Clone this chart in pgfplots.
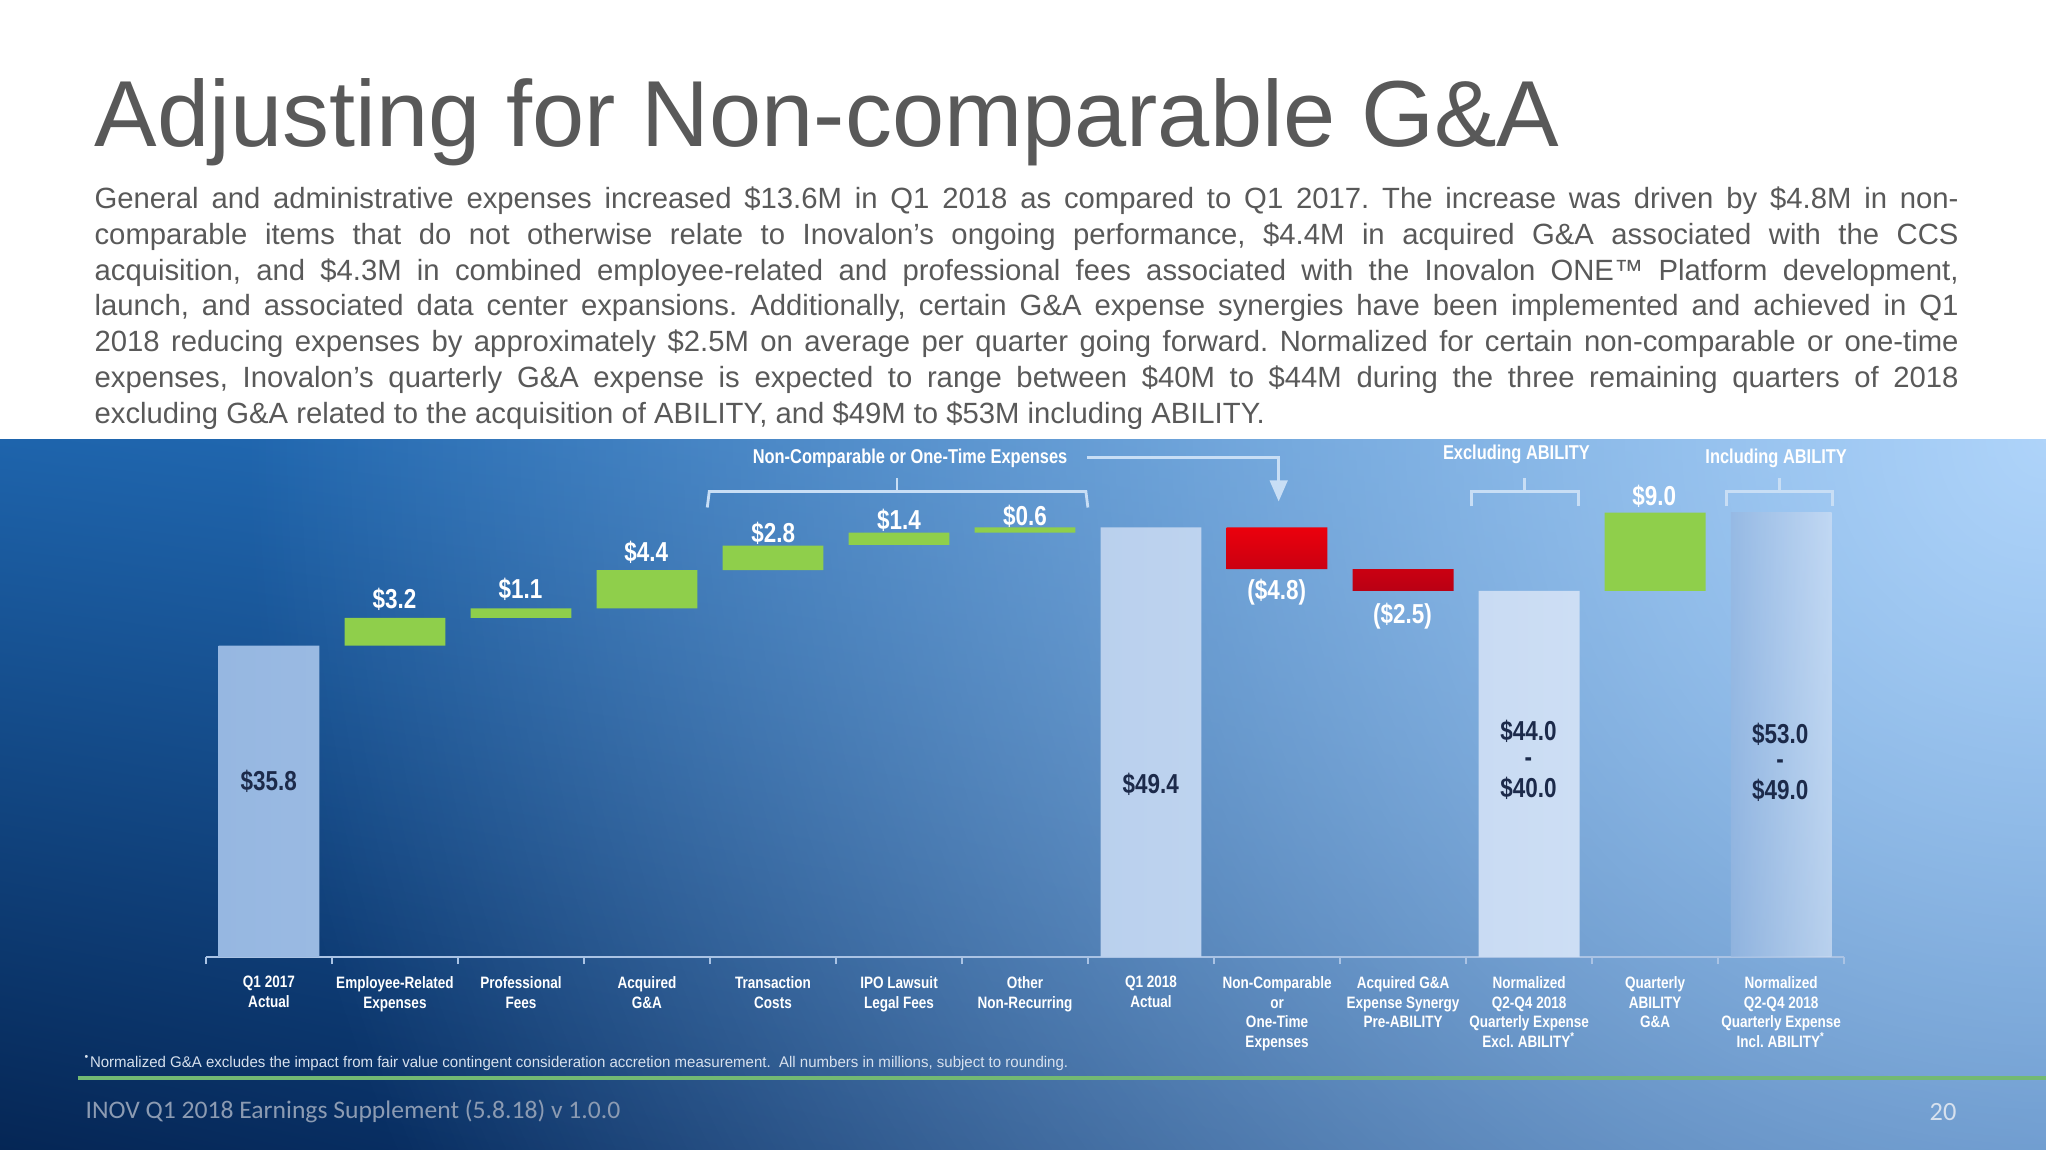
\documentclass[border=0pt]{standalone}
\usepackage{pgfplots}
\pgfplotsset{compat=1.18}
\usepackage{pgfplotstable}
\usepackage{fontspec}
\usepackage{graphicx}
\usetikzlibrary{fadings,shadings,arrows.meta}
\setmainfont{Liberation Sans}
\newfontfamily\nb{Liberation Sans}[FakeStretch=0.82]
\newfontfamily\car{Carlito}
\frenchspacing

\definecolor{titlegray}{RGB}{89,89,89}
\definecolor{bgUL}{RGB}{30,100,172}
\definecolor{bgUR}{RGB}{45,118,190}
\definecolor{bgLL}{RGB}{5,38,85}
\definecolor{bgLR}{RGB}{18,75,145}
\definecolor{glow}{RGB}{175,212,250}
\definecolor{lbL}{RGB}{150,183,225}
\definecolor{lbR}{RGB}{205,222,244}
\definecolor{gbar}{RGB}{143,207,75}
\definecolor{rtop}{RGB}{235,0,12}
\definecolor{rbot}{RGB}{185,0,20}
\definecolor{axiscol}{RGB}{170,195,228}
\definecolor{navy}{RGB}{28,42,74}
\definecolor{brk}{RGB}{200,222,245}
\definecolor{gline}{RGB}{115,185,115}
\definecolor{foot}{RGB}{140,155,178}
\definecolor{fnote}{RGB}{215,225,238}

\tikzfading[name=glowfade, inner color=transparent!0, outer color=transparent!100]

\pgfplotstableread{
x base light green red fade
0 0 35.8 0 0 0
1 35.8 0 3.2 0 0
2 39.0 0 1.1 0 0
3 40.1 0 4.4 0 0
4 44.5 0 2.8 0 0
5 47.4 0 1.4 0 0
6 48.8 0 0.6 0 0
7 0 49.4 0 0 0
8 44.6 0 0 4.8 0
9 42.1 0 0 2.5 0
10 0 42.1 0 0 0
11 42.1 0 9.0 0 0
12 0 0 0 0 51.1
}\wf

\newcommand\pl[2]{\node[anchor=base west, inner sep=0, text=titlegray, font=\fontsize{8.33pt}{10pt}\selectfont] at (94,#1) {\makebox[18.65cm][s]{#2}};}
\newcommand\vl[3]{\node[anchor=base, inner sep=0, text=#3, font=\nb\bfseries\fontsize{7.8pt}{9pt}\selectfont] at (#1) {#2};}
\newcommand\hl[2]{\node[anchor=base, inner sep=0, text=white, font=\nb\bfseries\fontsize{5.7pt}{7pt}\selectfont] at (#1) {#2};}

\begin{document}
\begin{tikzpicture}
\begin{scope}[x=0.01cm,y=-0.01cm]
\useasboundingbox (0,0) rectangle (2048,1151);
\fill[white] (0,0) rectangle (2048,1151);
\shade[upper left=bgUL, upper right=bgUR, lower left=bgLL, lower right=bgLR] (0,440) rectangle (2048,1151);
\begin{scope}
\clip (0,440) rectangle (2048,1151);
\fill[glow, path fading=glowfade] (2048,440) circle (1800);
\end{scope}
\node[anchor=base west, inner sep=0, text=titlegray, font=\fontsize{26.7pt}{32pt}\selectfont] at (94,147) {Adjusting for Non-comparable G\&A};
\pl{209}{General and administrative expenses increased \$13.6M in Q1 2018 as compared to Q1 2017. The increase was driven by \$4.8M in non-}
\pl{245}{comparable items that do not otherwise relate to Inovalon’s ongoing performance, \$4.4M in acquired G\&A associated with the CCS}
\pl{281}{acquisition, and \$4.3M in combined employee-related and professional fees associated with the Inovalon ONE™ Platform development,}
\pl{316}{launch, and associated data center expansions. Additionally, certain G\&A expense synergies have been implemented and achieved in Q1}
\pl{352}{2018 reducing expenses by approximately \$2.5M on average per quarter going forward. Normalized for certain non-comparable or one-time}
\pl{388}{expenses, Inovalon’s quarterly G\&A expense is expected to range between \$40M to \$44M during the three remaining quarters of 2018}
\node[anchor=base west, inner sep=0, text=titlegray, font=\fontsize{8.33pt}{10pt}\selectfont] at (94,424) {excluding G\&A related to the acquisition of ABILITY, and \$49M to \$53M including ABILITY.};
\end{scope}

\begin{axis}[
  at={(2.06cm,-9.574cm)}, anchor=south west,
  scale only axis, width=16.39cm, height=4.785cm,
  xmin=-0.5, xmax=12.5, ymin=0, ymax=55,
  clip=false,
  axis y line=none,
  axis x line=bottom,
  x axis line style={draw=axiscol, line width=0.6pt, -},
  xtick={0,...,12},
  major tick length=0pt,
  minor xtick={-0.5,0.5,...,12.5},
  minor tick length=2pt,
  tick align=outside,
  minor tick style={draw=axiscol, line width=0.5pt},
  xticklabels={{Q1 2017\\Actual},{Employee-Related\\Expenses},{Professional\\Fees},{Acquired\\G\&A},{Transaction\\Costs},{IPO Lawsuit\\Legal Fees},{Other\\Non-Recurring},{Q1 2018\\Actual},{Non-Comparable\\or\\One-Time\\Expenses},{Acquired G\&A\\Expense Synergy\\Pre-ABILITY},{Normalized\\Q2-Q4 2018\\Quarterly Expense\\Excl. ABILITY\textsuperscript{*}},{Quarterly\\ABILITY\\G\&A},{Normalized\\Q2-Q4 2018\\Quarterly Expense\\Incl. ABILITY\textsuperscript{*}}},
  xticklabel style={font=\nb\bfseries\fontsize{4.7pt}{5.6pt}\selectfont, text=white, align=center, anchor=north, yshift=-2pt},
  ybar stacked, bar width=0.8,
]
\addplot[draw=none, fill=none] table[x=x, y=base] {\wf};
\addplot[draw=none, left color=lbL, right color=lbR] table[x=x, y=light] {\wf};
\addplot[draw=none, fill=gbar] table[x=x, y=green] {\wf};
\addplot[draw=none, top color=rtop, bottom color=rbot] table[x=x, y=red] {\wf};
\addplot[draw=none, left color=lbL, right color=lbR, fill opacity=0.75] table[x=x, y=fade] {\wf};
\end{axis}

\begin{scope}[x=0.01cm,y=-0.01cm]
\vl{395,609}{\$3.2}{white}
\vl{521,599}{\$1.1}{white}
\vl{647,562}{\$4.4}{white}
\vl{774,543}{\$2.8}{white}
\vl{900,530}{\$1.4}{white}
\vl{1026,526}{\$0.6}{white}
\vl{1656,506}{\$9.0}{white}
\vl{1278,600}{(\$4.8)}{white}
\vl{1404,624}{(\$2.5)}{white}
\vl{269,791}{\$35.8}{navy}
\vl{1152,794}{\$49.4}{navy}
\vl{1530,741}{\$44.0}{navy}
\vl{1530,767}{-}{navy}
\vl{1530,798}{\$40.0}{navy}
\vl{1782,744}{\$53.0}{navy}
\vl{1782,769}{-}{navy}
\vl{1782,800}{\$49.0}{navy}
\hl{911,464}{Non-Comparable or One-Time Expenses}
\hl{1518,460}{Excluding ABILITY}
\hl{1778,464}{Including ABILITY}
\draw[brk, line width=0.8pt] (708,508) -- (710,492) -- (1087,492) -- (1089,508);
\draw[brk, line width=0.8pt] (898,492) -- (898,478);
\draw[brk, line width=0.8pt] (1473,507) -- (1473,492) -- (1580,492) -- (1580,507);
\draw[brk, line width=0.8pt] (1526,492) -- (1526,478);
\draw[brk, line width=0.8pt] (1728,507) -- (1728,492) -- (1834,492) -- (1834,507);
\draw[brk, line width=0.8pt] (1781,492) -- (1781,478);
\draw[brk, line width=0.8pt, -{Triangle[width=5pt,length=6pt]}] (1088,458) -- (1280,458) -- (1280,502);
\node[anchor=west, inner sep=0, text=fnote, font=\fontsize{4.4pt}{5pt}\selectfont] at (84,1064) {\resizebox{9.84cm}{\height}{\textsuperscript{•}Normalized G\&A excludes the impact from fair value contingent consideration accretion measurement.\ \ All numbers in millions, subject to rounding.}};
\draw[gline, line width=1.2pt] (78,1079) -- (2048,1079);
\node[anchor=west, inner sep=0, text=foot, font=\car\fontsize{7.2pt}{8pt}\selectfont] at (85,1113) {\resizebox{5.35cm}{\height}{INOV Q1 2018 Earnings Supplement (5.8.18) v 1.0.0}};
\node[anchor=center, inner sep=0, text=fnote, font=\car\fontsize{7.5pt}{8pt}\selectfont] at (1945,1113) {20};
\end{scope}
\end{tikzpicture}
\end{document}
